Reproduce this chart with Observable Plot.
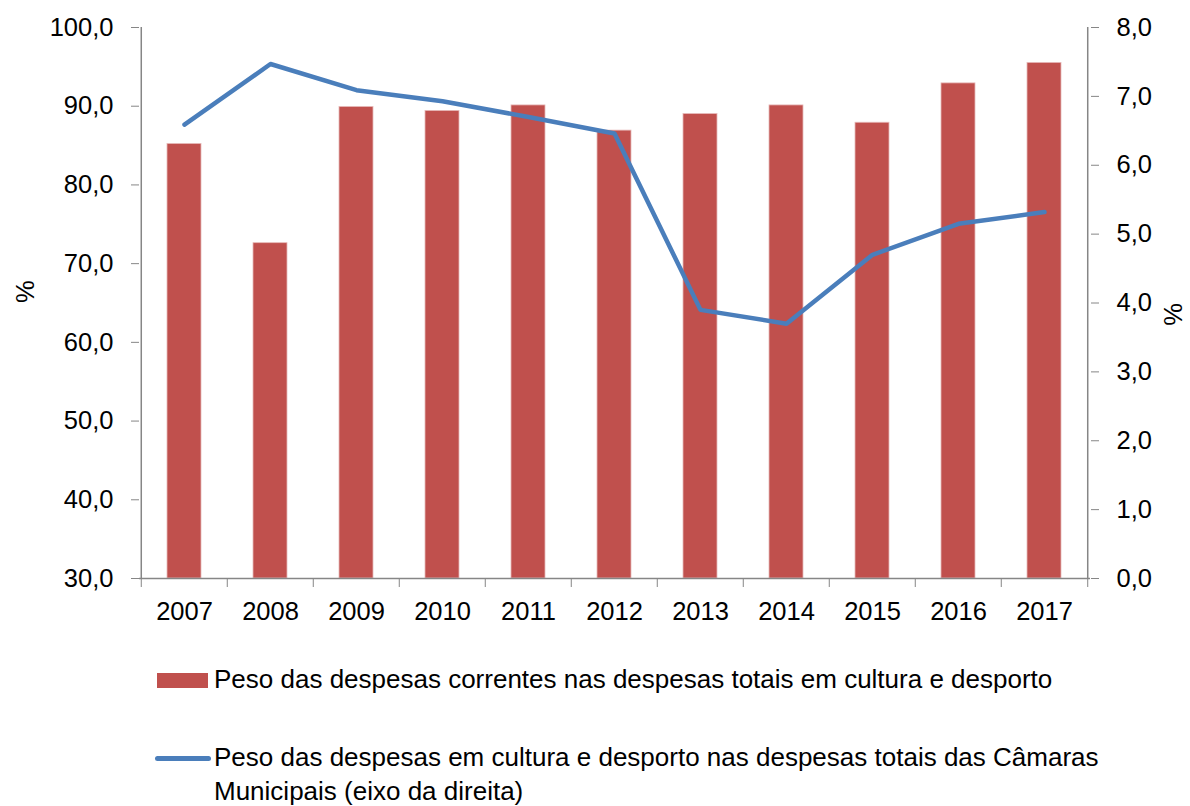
<!DOCTYPE html>
<html>
<head>
<meta charset="utf-8">
<script src="https://cdn.jsdelivr.net/npm/d3@7"></script>
<script src="https://cdn.jsdelivr.net/npm/@observablehq/plot@0.6"></script>
<style>
  html, body { margin: 0; padding: 0; background: #fff; }
  body { position: relative; width: 1190px; height: 806px; overflow: hidden; font-family: "Liberation Sans", Arial, sans-serif; }
  #chart svg { display: block; }
  .leg-text { position: absolute; left: 214px; font-size: 26px; line-height: 34px; color: #000; white-space: nowrap; }
  .swatch-bar { position: absolute; left: 157px; top: 673px; width: 51px; height: 15px; background: #C0504D; }
  .swatch-line { position: absolute; left: 155px; top: 756px; width: 56px; height: 4.5px; border-radius: 3px; background: #4A7EBB; }
</style>
</head>
<body>
<div id="chart"></div>
<div class="swatch-bar"></div>
<div class="leg-text" style="top:662px">Peso das despesas correntes nas despesas totais em cultura e desporto</div>
<div class="swatch-line"></div>
<div class="leg-text" style="top:740px">Peso das despesas em cultura e desporto nas despesas totais das Câmaras<br>Municipais (eixo da direita)</div>
<script>
const years = ["2007","2008","2009","2010","2011","2012","2013","2014","2015","2016","2017"];
const correntes = [85.2, 72.6, 89.9, 89.4, 90.1, 86.9, 89.0, 90.1, 87.9, 92.9, 95.5];
const camaras = [6.59, 7.47, 7.09, 6.93, 6.70, 6.46, 3.90, 3.70, 4.70, 5.15, 5.32];
const leftTicks = [30, 40, 50, 60, 70, 80, 90, 100];
const rightTicks = [0, 1, 2, 3, 4, 5, 6, 7, 8];

const leftDomain = [30, 100];
const rightDomain = [0, 8];
const toLeft = v => leftDomain[0] + (v - rightDomain[0]) * (leftDomain[1] - leftDomain[0]) / (rightDomain[1] - rightDomain[0]);
const fromLeft = v => rightDomain[0] + (v - leftDomain[0]) * (rightDomain[1] - rightDomain[0]) / (leftDomain[1] - leftDomain[0]);
const fmt = v => v.toFixed(1).replace(".", ",");

const data = years.map((y, i) => ({year: y, bar: correntes[i], line: camaras[i]}));

const W = 1190, H = 640, mL = 139, mR = 100, mT = 27, mB = 62;
const step = (W - mL - mR) / years.length;
const gray = "#868686";

const chart = Plot.plot({
  width: W, height: H,
  marginLeft: mL, marginRight: mR, marginTop: mT, marginBottom: mB,
  style: {fontFamily: "'Liberation Sans', Arial, sans-serif", fontSize: "25.5px", color: "#000", background: "#fff"},
  x: {type: "band", domain: years, paddingInner: 0.6, paddingOuter: 0.3, label: null},
  y: {domain: leftDomain, label: null},
  marks: [
    Plot.barY(data, {x: "year", y1: leftDomain[0], y2: "bar", fill: "#C0504D", stroke: "#E6B9B8", strokeWidth: 0.8}),
    Plot.ruleY([leftDomain[0]], {stroke: gray, strokeWidth: 1.5}),
    Plot.ruleX([years[0]], {dx: -step / 2, stroke: gray, strokeWidth: 1.5}),
    Plot.ruleX([years[years.length - 1]], {dx: step / 2, stroke: gray, strokeWidth: 1.5}),
    Plot.axisX({tickSize: 0, tickPadding: 23, label: null}),
    Plot.axisX({tickSize: 9, tickFormat: () => "", dx: -step / 2, stroke: gray, label: null}),
    Plot.axisX({ticks: [years[years.length - 1]], tickSize: 9, tickFormat: () => "", dx: step / 2, stroke: gray, label: null}),
    Plot.axisY({ticks: leftTicks, tickSize: 8, tickPadding: 18, tickFormat: fmt, stroke: gray, label: null}),
    Plot.axisY({anchor: "right", ticks: rightTicks.map(toLeft), tickSize: 8, tickPadding: 18, tickFormat: d => fmt(fromLeft(d)), stroke: gray, label: null}),
    Plot.text(["%"], {frameAnchor: "left", dx: -114, rotate: -90, fontSize: 25.5}),
    Plot.text(["%"], {frameAnchor: "right", dx: 83, rotate: -90, fontSize: 25.5}),
    Plot.line(data, {x: "year", y: d => toLeft(d.line), stroke: "#4A7EBB", strokeWidth: 4.5, strokeLinejoin: "round", strokeLinecap: "round"})
  ]
});
document.getElementById("chart").appendChild(chart);
</script>
</body>
</html>
